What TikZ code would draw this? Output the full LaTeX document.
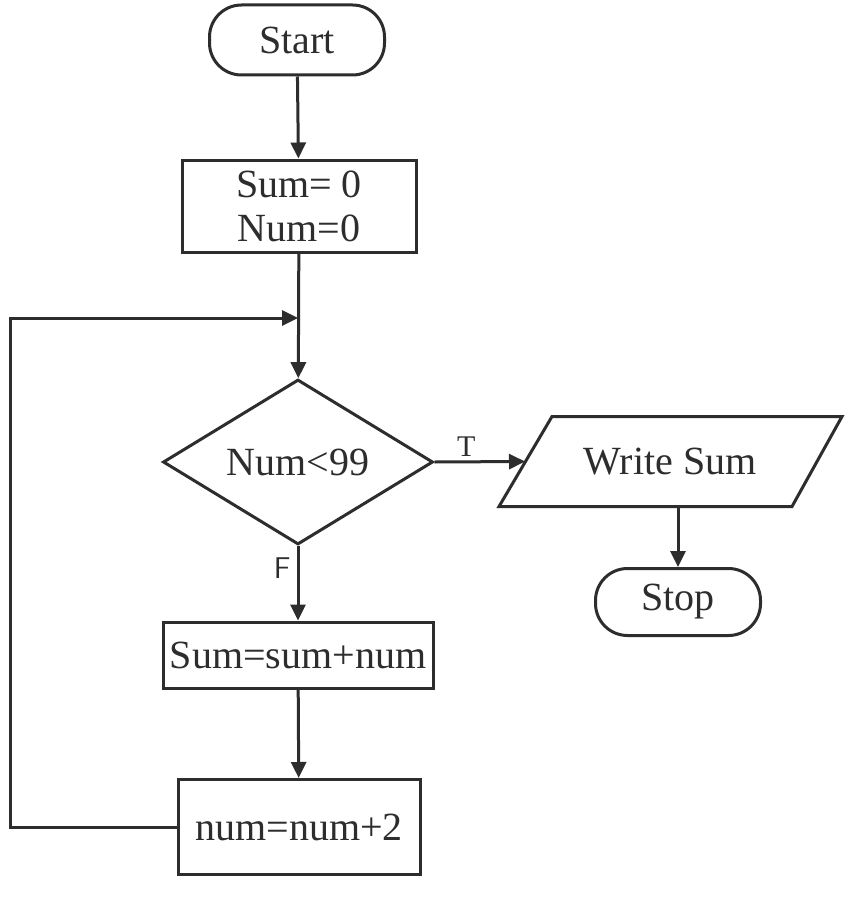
\documentclass[tikz,border=0pt]{standalone}
\usepackage{fontspec}
\setmainfont{Liberation Serif}
\usetikzlibrary{shapes.geometric,arrows.meta,calc}
\definecolor{ink}{RGB}{45,45,45}
\begin{document}
\begin{tikzpicture}[x=0.5pt,y=-0.5pt,line width=1.5pt,
  every node/.style={text=ink,font=\fontsize{20}{22}\selectfont},
  term/.style={draw=ink,rectangle,rounded corners=16pt,inner sep=0pt},
  proc/.style={draw=ink,rectangle,inner sep=0pt,align=center},
  decis/.style={draw=ink,diamond,inner sep=0pt,aspect=1.64},
  arr/.style={draw=ink,-{Triangle[length=8pt,width=7.5pt]}},
  lbl/.style={font=\fontsize{15}{17}\selectfont}]
\useasboundingbox (0,0) rectangle (856,904);
\fill[white] (0,0) rectangle (856,904);
\node[term,minimum width=87.5pt,minimum height=35pt] (start) at (297,40) {Start};
\node[proc,minimum width=117pt,minimum height=46pt] (init) at (299,206) {Sum= 0\\Num=0};
\node[decis,minimum width=135pt,minimum height=82.5pt] (dec) at (298,462) {Num<99};
\node[minimum width=143.5pt,minimum height=43.5pt,inner sep=0pt] (write) at (670,461.5) {Write Sum};
\draw[ink] ($(write.south west)+(-26,0)$) -- ($(write.north west)+(27,0)$) -- ($(write.north east)+(27,0)$) -- ($(write.south east)+(-23,0)$) -- cycle;
\node[term,minimum width=82.5pt,minimum height=33.5pt] (stop) at (678,602) {Stop};
\node[proc,minimum width=135pt,minimum height=33pt] (add) at (298,655) {Sum=sum+num};
\node[proc,minimum width=121pt,minimum height=47.5pt] (inc) at (299,827) {num=num+2};
\coordinate (join) at (298,318);
\coordinate (c1) at (10,827);
\coordinate (c2) at (10,318);
\draw[arr] (start) -- (init);
\draw[arr] (init) -- (dec);
\draw[arr] (dec.east) -- node[lbl,above,pos=0.35,inner sep=2pt]{T} (write.west);
\draw[arr] ($(write.south)+(8,0)$) -- ($(stop.north)$);
\draw[arr] (dec.south) -- node[lbl,left,pos=0.3,inner sep=3pt,font=\sffamily\fontsize{15}{17}\selectfont]{F} (add.north);
\draw[arr] (add) -- (inc);
\draw[arr] (inc.west) -- (c1) -- (c2) -- (join);
\end{tikzpicture}
\end{document}
